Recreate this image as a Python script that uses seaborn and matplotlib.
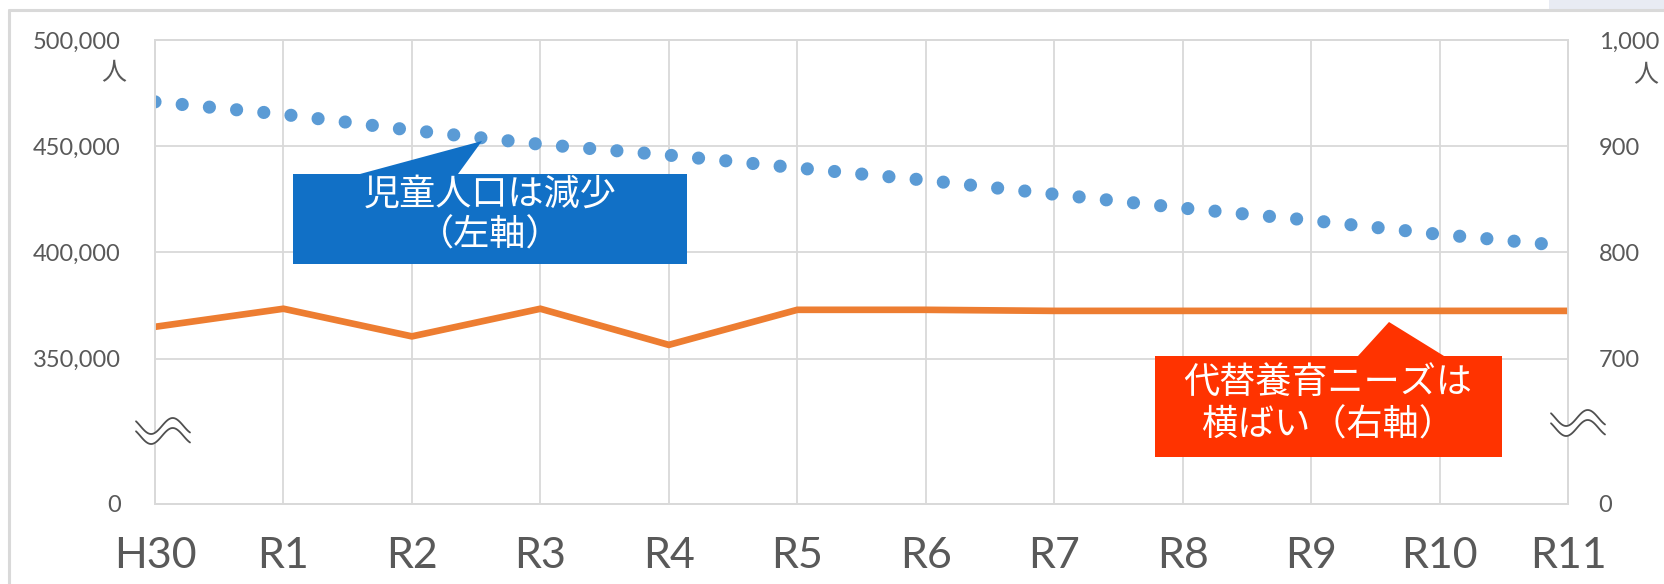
import numpy as np
import pandas as pd
import seaborn as sns
import matplotlib.pyplot as plt
from matplotlib.lines import Line2D
from matplotlib.patches import Polygon, Rectangle

# data
years = ["H30", "R1", "R2", "R3", "R4", "R5", "R6", "R7", "R8", "R9", "R10", "R11"]
children = [470900, 465000, 457500, 450900, 445800, 439800, 434000, 427400, 420900, 415100, 408500, 403000]
care_needs = [730, 747, 721, 747, 713, 746, 746, 745, 745, 745, 745, 745]
left_ticks = [0, 350000, 400000, 450000, 500000]
right_ticks = [0, 700, 800, 900, 1000]

df = pd.DataFrame({"pos": np.arange(len(years)), "children": children, "needs": care_needs})

sns.set_style("white")
plt.rcParams['font.family'] = ['Lato', 'Noto Sans CJK JP', 'DejaVu Sans']

W, H = 1665, 584
fig = plt.figure(figsize=(W / 100, H / 100), dpi=100)
ax = fig.add_axes([155 / W, (H - 504) / H, (1568 - 155) / W, (504 - 40) / H])
ax2 = ax.twinx()

GRID = "#D9D9D9"
TXT = "#595959"
SQ = 68400 / 350000  # compression of the broken part below the break


def make_scale(brk):
    def fwd(v):
        v = np.asarray(v, dtype=float)
        return np.where(v >= brk, v, brk - (brk - v) * SQ)

    def inv(u):
        u = np.asarray(u, dtype=float)
        return np.where(u >= brk, u, brk - (brk - u) / SQ)
    return fwd, inv


ax.set_yscale("function", functions=make_scale(350000))
ax2.set_yscale("function", functions=make_scale(700))

sns.lineplot(data=df, x="pos", y="children", ax=ax, color="#5B9BD5", linewidth=9.5)
dots = ax.get_lines()[-1]
dots.set_linestyle((0, (0.001, 2.07)))
dots.set_dash_capstyle("round")

sns.lineplot(data=df, x="pos", y="needs", ax=ax2, color="#ED7D31", linewidth=4.8)
ax2.get_lines()[-1].set_solid_joinstyle("miter")

ax.set_xlim(0, len(years) - 1)
ax.set_ylim(0, 500000)
ax2.set_ylim(0, 1000)

ax.set_xticks(range(len(years)))
ax.set_xticklabels(years)
ax.set_yticks(left_ticks)
ax.set_yticklabels([f"{v:,}" for v in left_ticks])
ax2.set_yticks(right_ticks)
ax2.set_yticklabels([f"{v:,}" for v in right_ticks])
ax.set_xlabel("")
ax.set_ylabel("")
ax2.set_ylabel("")

ax.tick_params(axis="x", length=0, pad=24, labelsize=31, labelcolor=TXT)
ax.tick_params(axis="y", length=0, pad=24.5, labelsize=17, labelcolor=TXT)
ax2.tick_params(axis="y", length=0, pad=22, labelsize=17, labelcolor=TXT)

ax.grid(True, color=GRID, linewidth=1.3)
ax2.grid(False)
for a in (ax, ax2):
    for s in a.spines.values():
        s.set_color(GRID)
        s.set_linewidth(1.3)

T = fig.dpi_scale_trans


def px(x, y):
    return (x / 100, (H - y) / 100)


# unit marks
fig.text(*px(126, 73), "人", transform=T, ha="right", va="center", fontsize=18,
         color=TXT, family=["Noto Sans CJK JP"])
fig.text(*px(1646, 75), "人", transform=T, ha="center", va="center", fontsize=18,
         color=TXT, family=["Noto Sans CJK JP"])


# axis break marks
def draw_break(cx, cy):
    t = np.linspace(0, 1, 80)
    xs = cx - 27 + 54 * t
    wave = 8 * np.sin(2 * np.pi * (t - 0.48) / 0.8)
    up = cy - wave - 5
    lo = cy - wave + 5
    poly = [px(x, y) for x, y in zip(xs, up)] + [px(x, y) for x, y in zip(xs[::-1], lo[::-1])]
    fig.add_artist(Polygon(poly, closed=True, transform=T, facecolor="white", edgecolor="none", zorder=5))
    for yy in (up, lo):
        pts = np.array([px(x, y) for x, y in zip(xs, yy)])
        fig.add_artist(Line2D(pts[:, 0], pts[:, 1], transform=T, color="#505050", linewidth=1.3, zorder=6))


draw_break(163, 431)
draw_break(1578, 423)


# callouts
def callout(verts, color, text, cx, cy, ls):
    fig.add_artist(Polygon([px(x, y) for x, y in verts], closed=True, transform=T,
                           facecolor=color, edgecolor="none", zorder=7))
    fig.text(*px(cx, cy), text, transform=T, ha="center", va="center", fontsize=26,
             color="white", family=["Noto Sans CJK JP", "DejaVu Sans"], linespacing=ls,
             multialignment="center", zorder=8)


callout([(293, 264), (293, 174), (360, 174), (482, 141), (458, 174), (687, 174), (687, 264)],
        "#1170C6", "児童人口は減少\n（左軸）", 490, 215, 1.15)
callout([(1155, 457), (1155, 356), (1358, 356), (1389, 322), (1444, 356), (1502, 356), (1502, 457)],
        "#FF3300", "代替養育ニーズは\n横ばい（右軸）", 1328, 404, 1.25)

# outer frame of the pasted chart
fig.add_artist(Line2D([9 / 100, 9 / 100], [0, (H - 10) / 100], transform=T, color=GRID, linewidth=2.2))
fig.add_artist(Line2D([9 / 100, W / 100], [(H - 10) / 100, (H - 10) / 100], transform=T, color=GRID, linewidth=2.2))
fig.add_artist(Rectangle(px(1549, 9), 116 / 100, 9 / 100, transform=T, facecolor="#E8EBF3", edgecolor="none"))

fig.savefig("out.png", dpi=100)
